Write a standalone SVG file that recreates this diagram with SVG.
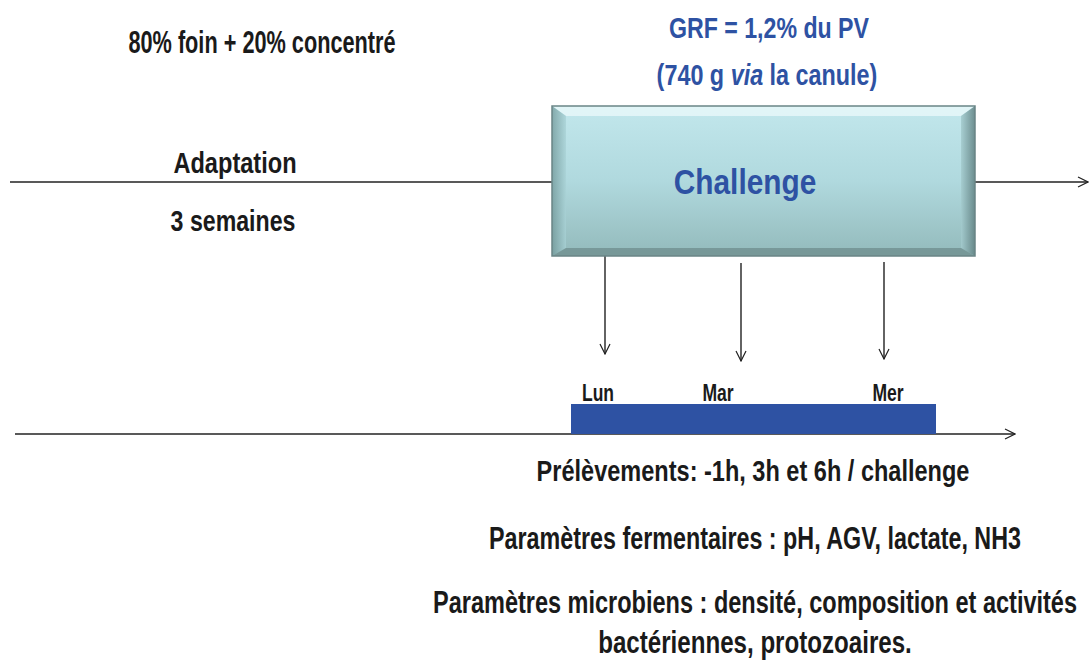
<svg xmlns="http://www.w3.org/2000/svg" width="1090" height="666" viewBox="0 0 1090 666">
<style>
.t{font-family:"Liberation Sans Narrow","Liberation Sans",Arial,sans-serif;font-weight:bold;fill:#1a1a1a}
.b{font-family:"Liberation Sans Narrow","Liberation Sans",Arial,sans-serif;font-weight:bold;fill:#2E52A3}
.ln{stroke:#222;stroke-width:1.4;fill:none}
</style>
<defs>
<linearGradient id="g" x1="0" y1="0" x2="0" y2="1">
<stop offset="0" stop-color="#C2E7EC"/>
<stop offset="0.5" stop-color="#B0D9DE"/>
<stop offset="1" stop-color="#93BABB"/>
</linearGradient>
<linearGradient id="gl" x1="0" y1="0" x2="1" y2="0">
<stop offset="0" stop-color="#6F9596"/>
<stop offset="1" stop-color="#A9D2D6"/>
</linearGradient>
<linearGradient id="gr" x1="0" y1="0" x2="1" y2="0">
<stop offset="0" stop-color="#A4CBCE"/>
<stop offset="1" stop-color="#5F7F80"/>
</linearGradient>
<marker id="ah" viewBox="0 0 12 12" refX="11" refY="6" markerWidth="12" markerHeight="12" markerUnits="userSpaceOnUse" orient="auto">
<path d="M1,1 L11,6 L1,11" fill="none" stroke="#222" stroke-width="1.2"/>
</marker>
</defs>
<rect width="1090" height="666" fill="#fff"/>
<g id="connectors">
<line class="ln" x1="10" y1="182" x2="552" y2="182"/>
<line class="ln" x1="975" y1="182" x2="1088" y2="182" marker-end="url(#ah)"/>
<line class="ln" x1="15" y1="434" x2="1015" y2="434" marker-end="url(#ah)"/>
<line class="ln" x1="605" y1="256" x2="605" y2="354" marker-end="url(#ah)"/>
<line class="ln" x1="741" y1="263" x2="741" y2="361" marker-end="url(#ah)"/>
<line class="ln" x1="884" y1="262" x2="884" y2="359" marker-end="url(#ah)"/>
</g>
<g id="challenge">
<rect x="552" y="106" width="423" height="150" fill="url(#g)"/>
<polygon points="552,106 975,106 961,116 566,116" fill="#E6F7F9" opacity="0.85"/>
<polygon points="552,106 566,116 566,248 552,256" fill="url(#gl)" opacity="0.75"/>
<polygon points="975,106 961,116 961,248 975,256" fill="url(#gr)" opacity="0.85"/>
<polygon points="552,256 566,248 961,248 975,256" fill="#6E8C8C" opacity="0.75"/>
<rect x="552" y="106" width="423" height="150" fill="none" stroke="#6A8586" stroke-width="1.5"/>
<text class="b" transform="translate(745,194) scale(0.8,1)" font-size="36" text-anchor="middle" textLength="178" lengthAdjust="spacingAndGlyphs">Challenge</text>
</g>
<g id="grf">
<text class="b" transform="translate(769,38) scale(0.8,1)" font-size="29" text-anchor="middle" textLength="250" lengthAdjust="spacingAndGlyphs">GRF = 1,2% du PV</text>
<text class="b" transform="translate(767,85) scale(0.8,1)" font-size="29" text-anchor="middle" textLength="276" lengthAdjust="spacingAndGlyphs">(740 g <tspan font-style="italic">via</tspan> la canule)</text>
</g>
<g id="adaptation">
<text class="t" transform="translate(262,53) scale(0.8,1)" font-size="31" text-anchor="middle" textLength="334" lengthAdjust="spacingAndGlyphs">80% foin + 20% concentré</text>
<text class="t" transform="translate(235,173) scale(0.8,1)" font-size="30" text-anchor="middle" textLength="154" lengthAdjust="spacingAndGlyphs">Adaptation</text>
<text class="t" transform="translate(233,231) scale(0.8,1)" font-size="30" text-anchor="middle" textLength="156" lengthAdjust="spacingAndGlyphs">3 semaines</text>
</g>
<g id="days">
<rect x="571" y="404" width="365" height="30" fill="#2E52A3"/>
<text class="t" transform="translate(598,401) scale(0.8,1)" font-size="24" text-anchor="middle" textLength="40" lengthAdjust="spacingAndGlyphs">Lun</text>
<text class="t" transform="translate(718,401) scale(0.8,1)" font-size="24" text-anchor="middle" textLength="39" lengthAdjust="spacingAndGlyphs">Mar</text>
<text class="t" transform="translate(888,401) scale(0.8,1)" font-size="24" text-anchor="middle" textLength="39" lengthAdjust="spacingAndGlyphs">Mer</text>
</g>
<g id="notes">
<text class="t" transform="translate(753,481) scale(0.8,1)" font-size="30" text-anchor="middle" textLength="541" lengthAdjust="spacingAndGlyphs">Prélèvements: -1h, 3h et 6h / challenge</text>
<text class="t" transform="translate(755,549) scale(0.8,1)" font-size="31" text-anchor="middle" textLength="665" lengthAdjust="spacingAndGlyphs">Paramètres fermentaires : pH, AGV,  lactate, NH3</text>
<text class="t" transform="translate(755,613) scale(0.7,1)" font-size="31" text-anchor="middle" textLength="920" lengthAdjust="spacingAndGlyphs">Paramètres microbiens : densité, composition et activités</text>
<text class="t" transform="translate(755,653) scale(0.8,1)" font-size="31" text-anchor="middle" textLength="392" lengthAdjust="spacingAndGlyphs">bactériennes, protozoaires.</text>
</g>
</svg>
